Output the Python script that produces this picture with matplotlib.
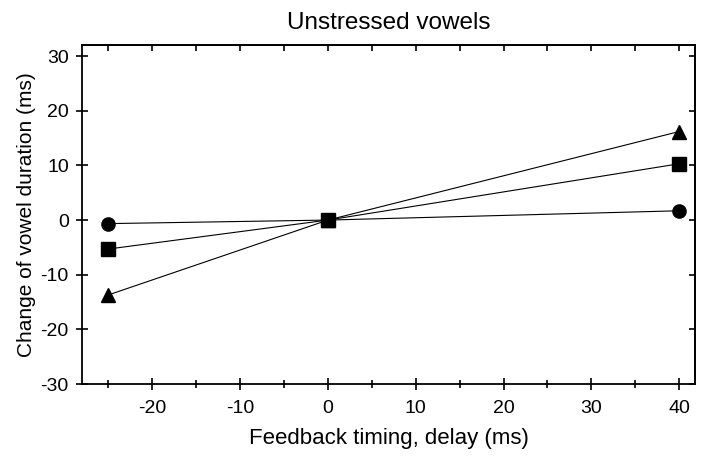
import numpy as np
import matplotlib
matplotlib.use('Agg')
import matplotlib.pyplot as plt
from matplotlib.ticker import MultipleLocator

plt.rcParams['font.family'] = ['Liberation Sans', 'DejaVu Sans']
plt.rcParams['axes.unicode_minus'] = False

# Datos
delay = [-25, 0, 40]
circulo = [-0.65, 0.0, 1.7]
triangulo = [-13.7, 0.0, 16.2]
cuadrado = [-5.3, 0.0, 10.3]

fig = plt.figure(figsize=(7.02, 4.61), dpi=100)
ax = fig.add_axes([0.1168, 0.167, 0.8732, 0.735])

ax.plot(delay, circulo, '-o', color='black', linewidth=0.8, markersize=9.5)
ax.plot(delay, triangulo, '-^', color='black', linewidth=0.8, markersize=10)
ax.plot(delay, cuadrado, '-s', color='black', linewidth=0.8, markersize=9.5)

ax.set_xlim(-28, 41.8)
ax.set_ylim(-30, 32)

ax.xaxis.set_major_locator(MultipleLocator(10))
ax.xaxis.set_minor_locator(MultipleLocator(5))
ax.yaxis.set_major_locator(MultipleLocator(10))

for sp in ax.spines.values():
    sp.set_linewidth(1.3)

ax.tick_params(axis='x', which='major', direction='inout', length=9, width=1.2,
               labelsize=14, pad=7, top=False)
ax.tick_params(axis='x', which='minor', direction='inout', length=6, width=1.2, top=False)
ax.tick_params(axis='y', which='major', direction='inout', length=9, width=1.2,
               labelsize=14, pad=5, right=False)

# Ticks cortos hacia adentro arriba y a la derecha
arriba = ax.secondary_xaxis('top')
arriba.xaxis.set_major_locator(MultipleLocator(5))
arriba.tick_params(direction='in', length=4, width=1.2, labeltop=False)
arriba.spines['top'].set_linewidth(1.3)

derecha = ax.secondary_yaxis('right')
derecha.yaxis.set_major_locator(MultipleLocator(10))
derecha.tick_params(direction='in', length=4, width=1.2, labelright=False)
derecha.spines['right'].set_linewidth(1.3)

ax.set_title('Unstressed vowels', fontsize=17.5, pad=12)
ax.set_xlabel('Feedback timing, delay (ms)', fontsize=16, labelpad=8)
ax.set_ylabel('Change of vowel duration (ms)', fontsize=15, labelpad=3)

fig.savefig('out.png', dpi=100)
